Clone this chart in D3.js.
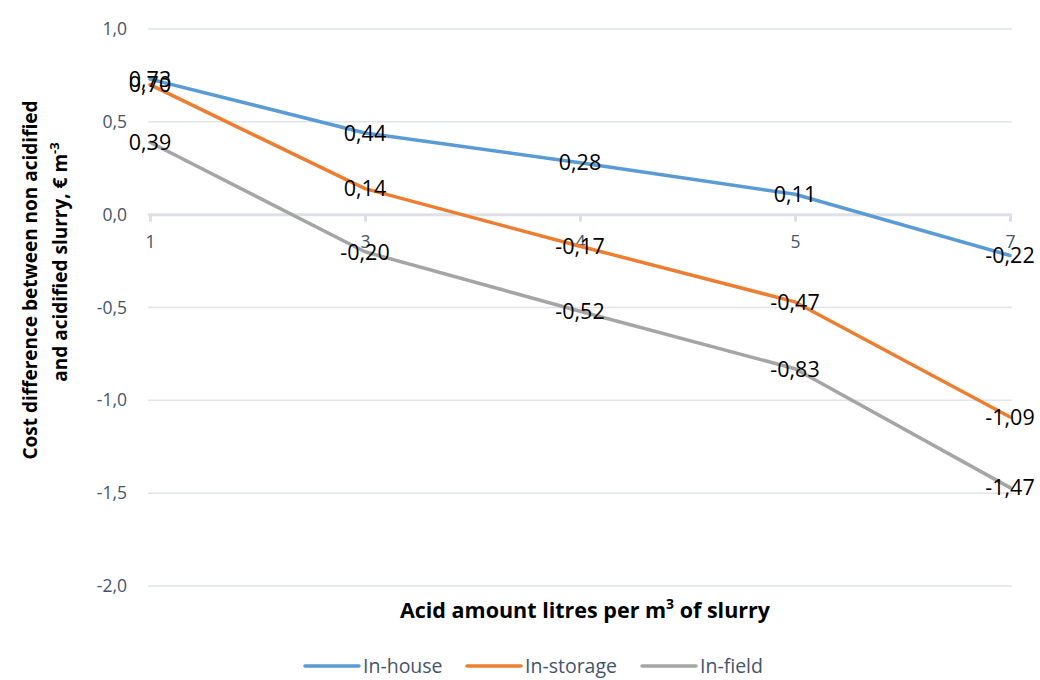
<!DOCTYPE html>
<html>
<head>
<meta charset="utf-8">
<script src="https://cdn.jsdelivr.net/npm/d3@7"></script>
<style>
  html, body { margin: 0; padding: 0; background: #fff; }
  svg { display: block; }
</style>
</head>
<body>
<svg id="chart" width="1040" height="680"></svg>
<script>
// Acid dose categories (litres per m3 of slurry)
const categories = ["1", "3", "4", "5", "7"];
// Cost difference per scenario, € m-3
const inHouse   = [0.73, 0.44, 0.28, 0.11, -0.22];
const inStorage = [0.70, 0.14, -0.17, -0.47, -1.09];
const inField   = [0.39, -0.20, -0.52, -0.83, -1.47];
const yTicks = [1.0, 0.5, 0.0, -0.5, -1.0, -1.5, -2.0];

const series = [
  { name: "In-house",   values: inHouse,   color: "#5b9bd5" },
  { name: "In-storage", values: inStorage, color: "#ed7d31" },
  { name: "In-field",   values: inField,   color: "#a5a5a5" }
];

const font = "'Open Sans', 'Noto Sans', sans-serif";
const axisColor = "#44546a";
const gridColor = "#e1e4e9";

const svg = d3.select("#chart");

const x = d3.scalePoint().domain(categories).range([150, 1010]);
const y = d3.scaleLinear().domain([-2, 1]).range([586, 29]);
const fmt = v => d3.format(".2f")(v).replace(".", ",").replace("−", "-");
const fmtTick = v => d3.format(".1f")(v).replace(".", ",").replace("−", "-");

// horizontal gridlines
svg.append("g")
  .selectAll("line")
  .data(yTicks.filter(t => t !== 0))
  .join("line")
  .attr("x1", 148).attr("x2", 1012)
  .attr("y1", d => y(d)).attr("y2", d => y(d))
  .attr("stroke", gridColor).attr("stroke-width", 1.5);

// y tick labels
svg.append("g")
  .selectAll("text")
  .data(yTicks)
  .join("text")
  .attr("x", 127)
  .attr("y", d => y(d))
  .attr("dy", "0.35em")
  .attr("text-anchor", "end")
  .attr("font-family", font)
  .attr("font-size", 17.5)
  .attr("fill", axisColor)
  .text(fmtTick);

// category axis on the zero line
const xAxis = svg.append("g")
  .attr("transform", `translate(0,${y(0)})`)
  .call(d3.axisBottom(x).tickSize(7).tickPadding(14).tickFormat(d => d));
xAxis.select(".domain")
  .attr("d", `M148,0H1012`)
  .attr("stroke", "#dde1e7").attr("stroke-width", 3);
xAxis.selectAll(".tick line").attr("stroke", "#dde1e7").attr("stroke-width", 3);
xAxis.selectAll(".tick text")
  .attr("font-family", font).attr("font-size", 17.5).attr("fill", axisColor);

// series lines
const line = d3.line()
  .x((d, i) => x(categories[i]))
  .y(d => y(d));

svg.append("g")
  .selectAll("path")
  .data(series)
  .join("path")
  .attr("d", d => line(d.values))
  .attr("fill", "none")
  .attr("stroke", d => d.color)
  .attr("stroke-width", 3.5)
  .attr("stroke-linejoin", "round")
  .attr("stroke-linecap", "round");

// value labels centred on each point
series.forEach(s => {
  svg.append("g")
    .selectAll("text")
    .data(s.values)
    .join("text")
    .attr("x", (d, i) => x(categories[i]))
    .attr("y", d => y(d))
    .attr("dy", "0.36em")
    .attr("text-anchor", "middle")
    .attr("font-family", font)
    .attr("font-size", 21.5)
    .attr("fill", "#000")
    .text(fmt);
});

// axis titles
svg.append("text")
  .attr("x", 585).attr("y", 618)
  .attr("text-anchor", "middle")
  .attr("font-family", font).attr("font-size", 21.5).attr("font-weight", "bold")
  .attr("fill", "#000")
  .call(t => {
    t.append("tspan").text("Acid amount litres per m");
    t.append("tspan").attr("dy", -9).attr("font-size", 14).text("3");
    t.append("tspan").attr("dy", 9).text(" of slurry");
  });

svg.append("text")
  .attr("transform", "translate(37,280) rotate(-90)")
  .attr("text-anchor", "middle")
  .attr("font-family", font).attr("font-size", 19).attr("font-weight", "bold")
  .attr("fill", "#000")
  .text("Cost difference between non acidified");

svg.append("text")
  .attr("transform", "translate(67,262) rotate(-90)")
  .attr("text-anchor", "middle")
  .attr("font-family", font).attr("font-size", 19).attr("font-weight", "bold")
  .attr("fill", "#000")
  .call(t => {
    t.append("tspan").text("and acidified slurry, € m");
    t.append("tspan").attr("dy", -8).attr("font-size", 13).text("-3");
  });

// legend
const legendX = [305, 467, 642];
const legend = svg.append("g")
  .selectAll("g")
  .data(series)
  .join("g")
  .attr("transform", (d, i) => `translate(${legendX[i]},666)`);
legend.append("line")
  .attr("x1", 0).attr("x2", 54)
  .attr("stroke", d => d.color).attr("stroke-width", 3.5)
  .attr("stroke-linecap", "round");
legend.append("text")
  .attr("x", 58).attr("dy", "0.35em")
  .attr("font-family", font).attr("font-size", 19.5)
  .attr("fill", axisColor)
  .text(d => d.name);
</script>
</body>
</html>
